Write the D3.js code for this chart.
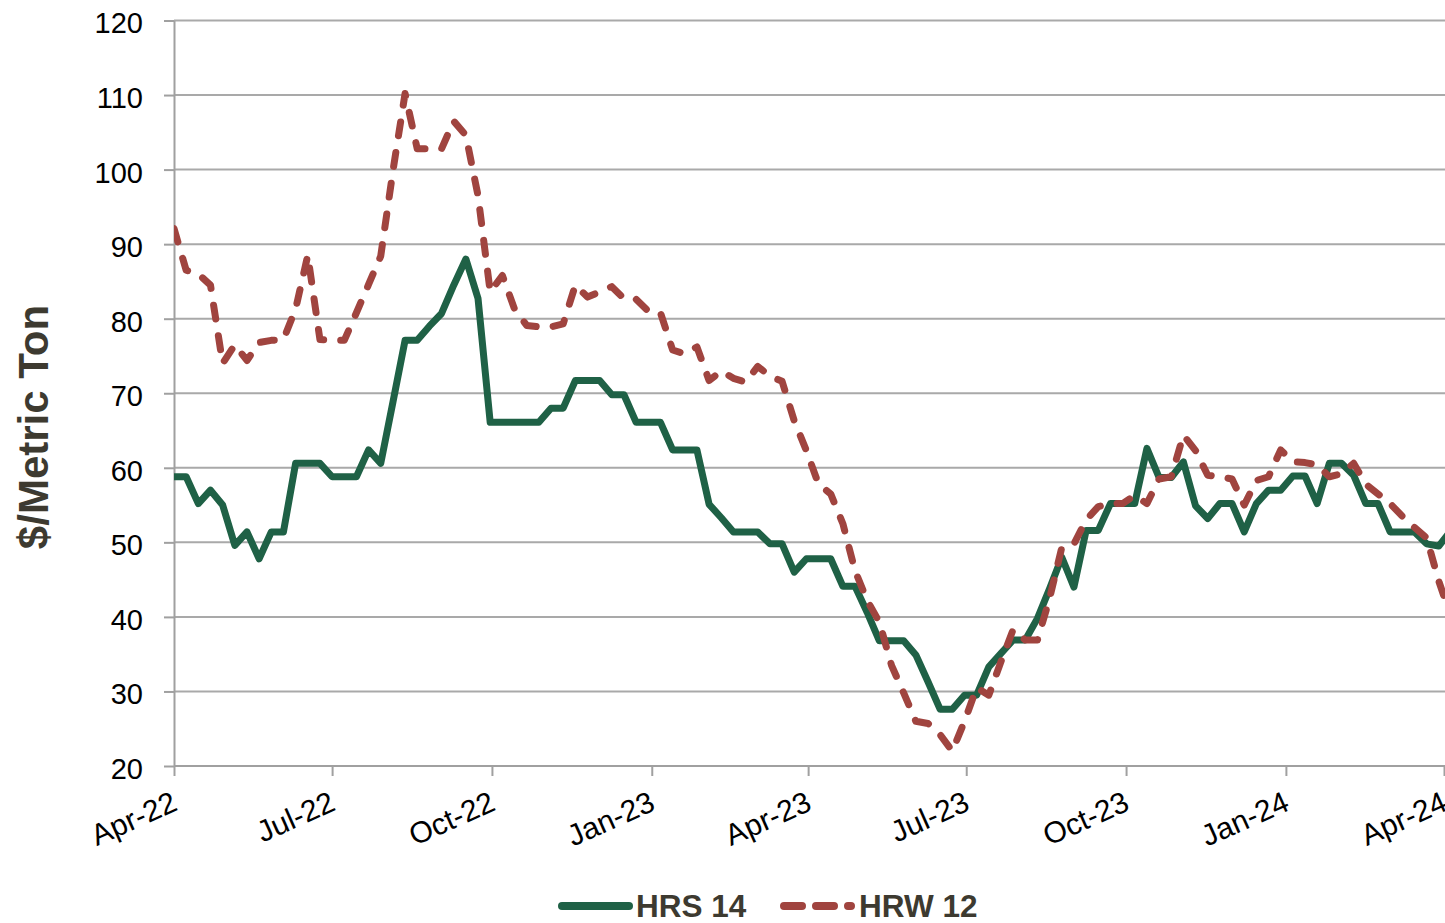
<!DOCTYPE html>
<html>
<head>
<meta charset="utf-8">
<script src="https://cdn.jsdelivr.net/npm/d3@7"></script>
<style>
  html, body { margin: 0; padding: 0; background: #ffffff; }
  svg { display: block; }
  text { font-family: "Liberation Sans", Arial, sans-serif; }
</style>
</head>
<body>
<svg id="chart" width="1445" height="923"></svg>
<script>
// Weekly basis values, $/metric ton, starting the first week of April 2022
const startDate = new Date(2022, 3, 1);

const hrs14 = [
  58.8, 58.8, 55.2, 57.0, 55.0, 49.6, 51.4, 47.8, 51.4, 51.4,
  60.6, 60.6, 60.6, 58.8, 58.8, 58.8, 62.4, 60.6, 68.8, 77.1,
  77.1, 79.0, 80.7, 84.5, 88.0, 82.7, 66.1, 66.1, 66.1, 66.1,
  66.1, 68.0, 68.0, 71.7, 71.7, 71.7, 69.8, 69.8, 66.1, 66.1,
  66.1, 62.4, 62.4, 62.4, 55.1, 53.3, 51.4, 51.4, 51.4, 49.8,
  49.8, 46.0, 47.8, 47.8, 47.8, 44.1, 44.1, 40.6, 36.8, 36.8,
  36.8, 34.9, 31.3, 27.6, 27.6, 29.5, 29.5, 33.3, 35.1, 36.9,
  36.9, 39.8, 43.8, 48.0, 44.0, 51.6, 51.6, 55.2, 55.2, 55.2,
  62.6, 58.7, 58.7, 60.8, 54.9, 53.2, 55.2, 55.2, 51.4, 55.2,
  57.0, 57.0, 58.9, 58.9, 55.2, 60.6, 60.6, 59.0, 55.2, 55.2,
  51.4, 51.4, 51.4, 49.8, 49.5, 51.6
];

const hrw12 = [
  92.1, 86.5, 86.0, 84.5, 74.0, 76.5, 74.4, 76.8, 77.1, 77.2,
  81.3, 88.5, 77.2, 77.1, 77.1, 80.8, 84.6, 88.4, 99.8, 110.2,
  102.8, 102.8, 102.8, 106.5, 104.6, 96.5, 83.6, 85.8, 81.3, 79.1,
  78.9, 78.9, 79.3, 84.5, 82.9, 83.6, 84.3, 82.7, 82.6, 81.0,
  80.8, 75.8, 75.3, 76.2, 71.7, 73.0, 72.0, 71.5, 73.6, 72.3,
  71.6, 66.3, 62.3, 57.8, 56.5, 52.5, 46.2, 42.2, 39.3, 33.5,
  29.8, 26.0, 25.7, 24.2, 22.0, 26.0, 30.5, 29.5, 34.0, 38.3,
  36.9, 36.9, 42.5, 49.3, 49.8, 53.0, 54.8, 55.2, 55.2, 56.3,
  55.2, 58.5, 58.8, 64.4, 62.3, 59.0, 58.8, 58.5, 55.0, 58.3,
  58.8, 62.4, 60.8, 60.7, 60.4, 58.8, 59.2, 60.6, 57.8, 56.5,
  55.2, 53.5, 52.0, 50.6, 44.8, 40.0
];

const yTicks = [20, 30, 40, 50, 60, 70, 80, 90, 100, 110, 120];
const xTickDates = [
  new Date(2022, 3, 1), new Date(2022, 6, 1), new Date(2022, 9, 1),
  new Date(2023, 0, 1), new Date(2023, 3, 1), new Date(2023, 6, 1),
  new Date(2023, 9, 1), new Date(2024, 0, 1), new Date(2024, 3, 1)
];
const seriesNames = ["HRS 14", "HRW 12"];
const seriesColors = ["#1f6146", "#a0443f"];

const weeks = d3.range(hrs14.length).map(i => d3.timeDay.offset(startDate, 7 * i));

const svg = d3.select("#chart");
const W = 1445;
const plot = { left: 174, right: 1444, top: 20.5, bottom: 766 };

const x = d3.scaleTime()
  .domain([xTickDates[0], xTickDates[xTickDates.length - 1]])
  .range([plot.left, plot.right]);
const y = d3.scaleLinear().domain([20, 120]).range([plot.bottom, plot.top]);

// horizontal gridlines
svg.append("g")
  .selectAll("line")
  .data(yTicks.filter(v => v !== 20))
  .join("line")
  .attr("x1", plot.left).attr("x2", W)
  .attr("y1", d => y(d)).attr("y2", d => y(d))
  .attr("stroke", "#a9a9a9").attr("stroke-width", 2);

// y axis
const yAxis = svg.append("g")
  .attr("transform", `translate(${plot.left},0)`)
  .call(d3.axisLeft(y).tickValues(yTicks).tickSize(10).tickPadding(21).tickSizeOuter(0));
yAxis.select(".domain").attr("stroke", "#a0a0a0").attr("stroke-width", 2);
yAxis.selectAll(".tick line").attr("stroke", "#a0a0a0").attr("stroke-width", 2);
yAxis.selectAll(".tick text")
  .attr("font-size", 29).attr("fill", "#000").attr("dy", "0.43em")
  .style("font-family", '"Liberation Sans", Arial, sans-serif');

// x axis
const xAxis = svg.append("g")
  .attr("transform", `translate(0,${plot.bottom})`)
  .call(d3.axisBottom(x).tickValues(xTickDates).tickSize(10).tickSizeOuter(0)
    .tickFormat(d3.timeFormat("%b-%y")));
xAxis.select(".domain").attr("stroke", "#a0a0a0").attr("stroke-width", 2)
  .attr("d", `M${plot.left},0H${W}`);
xAxis.selectAll(".tick line").attr("stroke", "#a0a0a0").attr("stroke-width", 2);
xAxis.selectAll(".tick text")
  .attr("font-size", 30).attr("fill", "#000")
  .attr("text-anchor", "end").attr("dy", 0).attr("y", 0)
  .attr("transform", "translate(4.5,43.5) rotate(-24)")
  .style("font-family", '"Liberation Sans", Arial, sans-serif');

// clip lines to the plot region
svg.append("clipPath").attr("id", "plotClip")
  .append("rect").attr("x", plot.left).attr("y", 0)
  .attr("width", W - plot.left).attr("height", plot.bottom + 10);

const line = d3.line()
  .x((d, i) => x(weeks[i]))
  .y(d => y(d));

const lines = svg.append("g").attr("clip-path", "url(#plotClip)");
lines.append("path")
  .datum(hrs14)
  .attr("fill", "none").attr("stroke", seriesColors[0])
  .attr("stroke-width", 7).attr("stroke-linejoin", "round").attr("stroke-linecap", "round")
  .attr("d", line);
lines.append("path")
  .datum(hrw12)
  .attr("fill", "none").attr("stroke", seriesColors[1])
  .attr("stroke-width", 7).attr("stroke-linejoin", "round").attr("stroke-linecap", "round")
  .attr("stroke-dasharray", "14,17")
  .attr("d", line);

// y axis title
svg.append("text")
  .attr("transform", "translate(48,427) rotate(-90)")
  .attr("text-anchor", "middle")
  .attr("font-size", 42).attr("font-weight", "bold").attr("fill", "#3d3a30")
  .text("$/Metric Ton");

// legend
const legend = svg.append("g");
legend.append("line")
  .attr("x1", 562).attr("x2", 629).attr("y1", 906).attr("y2", 906)
  .attr("stroke", seriesColors[0]).attr("stroke-width", 8).attr("stroke-linecap", "round");
legend.append("text")
  .attr("x", 636).attr("y", 916.5)
  .attr("font-size", 31.5).attr("font-weight", "bold").attr("fill", "#3d3a30")
  .text(seriesNames[0]);
legend.append("line")
  .attr("x1", 784).attr("x2", 851).attr("y1", 906).attr("y2", 906)
  .attr("stroke", seriesColors[1]).attr("stroke-width", 8).attr("stroke-linecap", "round")
  .attr("stroke-dasharray", "18,14");
legend.append("text")
  .attr("x", 859).attr("y", 916.5)
  .attr("font-size", 31.5).attr("font-weight", "bold").attr("fill", "#3d3a30")
  .text(seriesNames[1]);
</script>
</body>
</html>
